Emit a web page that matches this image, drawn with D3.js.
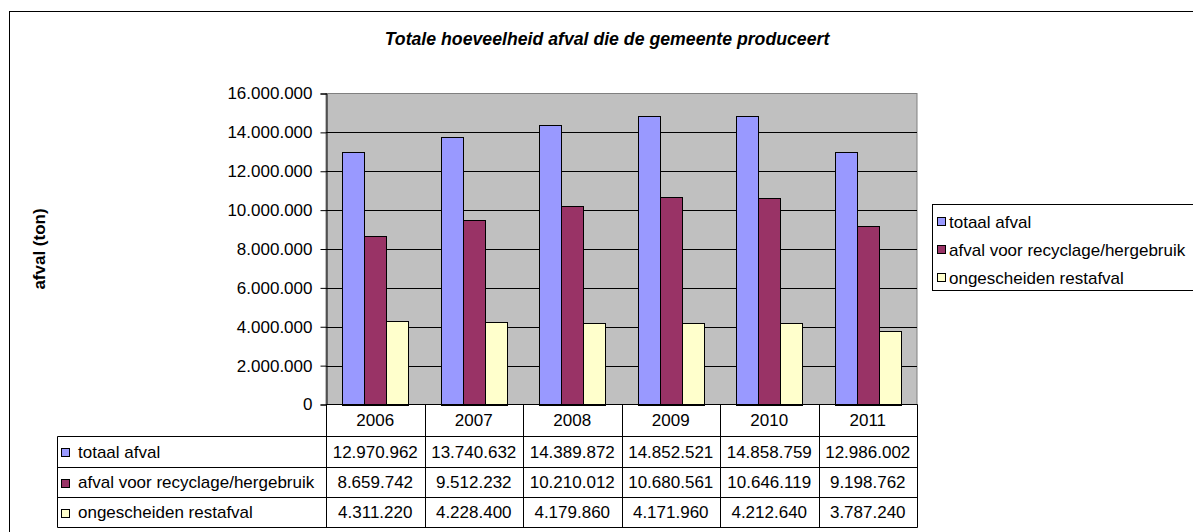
<!DOCTYPE html>
<html>
<head>
<meta charset="utf-8">
<script src="https://cdn.jsdelivr.net/npm/d3@7"></script>
<style>
  body { margin: 0; background: #fff; }
  svg { font-family: "Liberation Sans", Arial, sans-serif; }
</style>
</head>
<body>
<div id="chart"></div>
<script>
const years = ["2006", "2007", "2008", "2009", "2010", "2011"];
const seriesNames = ["totaal afval", "afval voor recyclage/hergebruik", "ongescheiden restafval"];
const totaal = [12970962, 13740632, 14389872, 14852521, 14858759, 12986002];
const recyclage = [8659742, 9512232, 10210012, 10680561, 10646119, 9198762];
const restafval = [4311220, 4228400, 4179860, 4171960, 4212640, 3787240];
const yTicks = [0, 2000000, 4000000, 6000000, 8000000, 10000000, 12000000, 14000000, 16000000];
const colors = ["#9999FF", "#993366", "#FFFFCC"];

const seriesValues = [totaal, recyclage, restafval];

const width = 1193, height = 532;
const plot = { left: 326, right: 917, top: 93.5, bottom: 404.5 };

// dutch number format: 12.970.962
const nl = d3.formatLocale({ decimal: ",", thousands: ".", grouping: [3], currency: ["€", ""] });
const fmt = nl.format(",d");

const svg = d3.select("#chart").append("svg")
  .attr("width", width)
  .attr("height", height);

// outer chart border (runs off the right and bottom of the picture)
svg.append("rect")
  .attr("x", 9.5).attr("y", 11.5)
  .attr("width", 1200).attr("height", 540)
  .attr("fill", "#fff")
  .attr("stroke", "#000");

// title
svg.append("text")
  .attr("x", 607).attr("y", 45)
  .attr("text-anchor", "middle")
  .style("font-size", "17.7px")
  .style("font-weight", "bold")
  .style("font-style", "italic")
  .text("Totale hoeveelheid afval die de gemeente produceert");

// scales
const x = d3.scaleBand()
  .domain(years)
  .range([plot.left, plot.right]);

const xInner = d3.scaleBand()
  .domain(d3.range(seriesNames.length))
  .range([0, x.bandwidth()])
  .paddingInner(0)
  .paddingOuter(0.75); // excel gap width 150%

const y = d3.scaleLinear()
  .domain([0, 16000000])
  .range([plot.bottom, plot.top]);

// plot background
svg.append("rect")
  .attr("x", plot.left).attr("y", plot.top)
  .attr("width", plot.right - plot.left)
  .attr("height", plot.bottom - plot.top)
  .attr("fill", "#C0C0C0")
  .attr("stroke", "#808080");

// gridlines
svg.append("g")
  .selectAll("line")
  .data(yTicks.slice(1, -1))
  .enter()
  .append("line")
  .attr("x1", plot.left).attr("x2", plot.right)
  .attr("y1", d => Math.round(y(d)) + 0.5)
  .attr("y2", d => Math.round(y(d)) + 0.5)
  .attr("stroke", "#000");

// y axis
const yAxis = svg.append("g")
  .attr("transform", "translate(" + (plot.left + 0.5) + ",0)")
  .call(d3.axisLeft(y).tickValues(yTicks).tickFormat(fmt).tickSize(6).tickPadding(8));
yAxis.select(".domain").attr("stroke", "#000");
yAxis.selectAll(".tick line").attr("stroke", "#000");
yAxis.selectAll(".tick text")
  .attr("fill", "#000")
  .style("font-size", "17px")
  .style("font-family", "Liberation Sans, Arial, sans-serif");

// y axis label
svg.append("text")
  .attr("transform", "translate(45,249) rotate(-90)")
  .attr("text-anchor", "middle")
  .style("font-size", "17px")
  .style("font-weight", "bold")
  .text("afval (ton)");

// bars
const rows = [];
years.forEach((yr, i) => {
  seriesValues.forEach((vals, s) => {
    rows.push({ year: yr, s: s, value: vals[i] });
  });
});

svg.append("g")
  .selectAll("rect")
  .data(rows)
  .enter()
  .append("rect")
  .attr("x", d => Math.round(x(d.year) + xInner(d.s)) + 0.5)
  .attr("y", d => Math.round(y(d.value)) + 0.5)
  .attr("width", Math.round(xInner.bandwidth()))
  .attr("height", d => Math.round(y(0)) - Math.round(y(d.value)))
  .attr("fill", d => colors[d.s])
  .attr("stroke", "#000");

// data table below the plot
const table = svg.append("g");
const rowLines = [404.5, 436.5, 467.5, 497.5, 527.5];
const tableLeft = 57.5;

// header row lines (years) and body rows
table.append("line")
  .attr("x1", plot.left).attr("x2", plot.right + 0.5)
  .attr("y1", rowLines[0]).attr("y2", rowLines[0])
  .attr("stroke", "#000");
rowLines.slice(1).forEach(ly => {
  table.append("line")
    .attr("x1", tableLeft).attr("x2", plot.right + 0.5)
    .attr("y1", ly).attr("y2", ly)
    .attr("stroke", "#000");
});
table.append("line")
  .attr("x1", tableLeft).attr("x2", tableLeft)
  .attr("y1", rowLines[1]).attr("y2", rowLines[4])
  .attr("stroke", "#000");
years.concat(["end"]).forEach((yr, i) => {
  const lx = Math.round(yr === "end" ? plot.right : x(yr)) + 0.5;
  table.append("line")
    .attr("x1", lx).attr("x2", lx)
    .attr("y1", rowLines[0]).attr("y2", rowLines[4])
    .attr("stroke", "#000");
});

// year labels
table.selectAll("text.year")
  .data(years)
  .enter()
  .append("text")
  .attr("class", "year")
  .attr("x", d => x(d) + x.bandwidth() / 2)
  .attr("y", (rowLines[0] + rowLines[1]) / 2)
  .attr("dy", "0.35em")
  .attr("text-anchor", "middle")
  .style("font-size", "17px")
  .text(d => d);

// row labels with swatches, and values
seriesNames.forEach((name, s) => {
  const cy = (rowLines[s + 1] + rowLines[s + 2]) / 2;
  table.append("rect")
    .attr("x", 61.5).attr("y", Math.round(cy - 4) + 0.5)
    .attr("width", 8).attr("height", 8)
    .attr("fill", colors[s])
    .attr("stroke", "#000");
  table.append("text")
    .attr("x", 78).attr("y", cy)
    .attr("dy", "0.35em")
    .style("font-size", "17px")
    .text(name);
  table.selectAll("text.v" + s)
    .data(seriesValues[s])
    .enter()
    .append("text")
    .attr("class", "v" + s)
    .attr("x", (d, i) => x(years[i]) + x.bandwidth() / 2)
    .attr("y", cy)
    .attr("dy", "0.35em")
    .attr("text-anchor", "middle")
    .style("font-size", "17px")
    .text(d => fmt(d));
});

// legend
const legend = svg.append("g");
legend.append("rect")
  .attr("x", 932.5).attr("y", 204.5)
  .attr("width", 300).attr("height", 86)
  .attr("fill", "#fff")
  .attr("stroke", "#000");
const legendY = [222, 250, 278];
seriesNames.forEach((name, s) => {
  legend.append("rect")
    .attr("x", 937.5).attr("y", legendY[s] - 4.5)
    .attr("width", 8).attr("height", 8)
    .attr("fill", colors[s])
    .attr("stroke", "#000");
  legend.append("text")
    .attr("x", 949).attr("y", legendY[s])
    .attr("dy", "0.35em")
    .style("font-size", "17px")
    .text(name);
});
</script>
</body>
</html>
